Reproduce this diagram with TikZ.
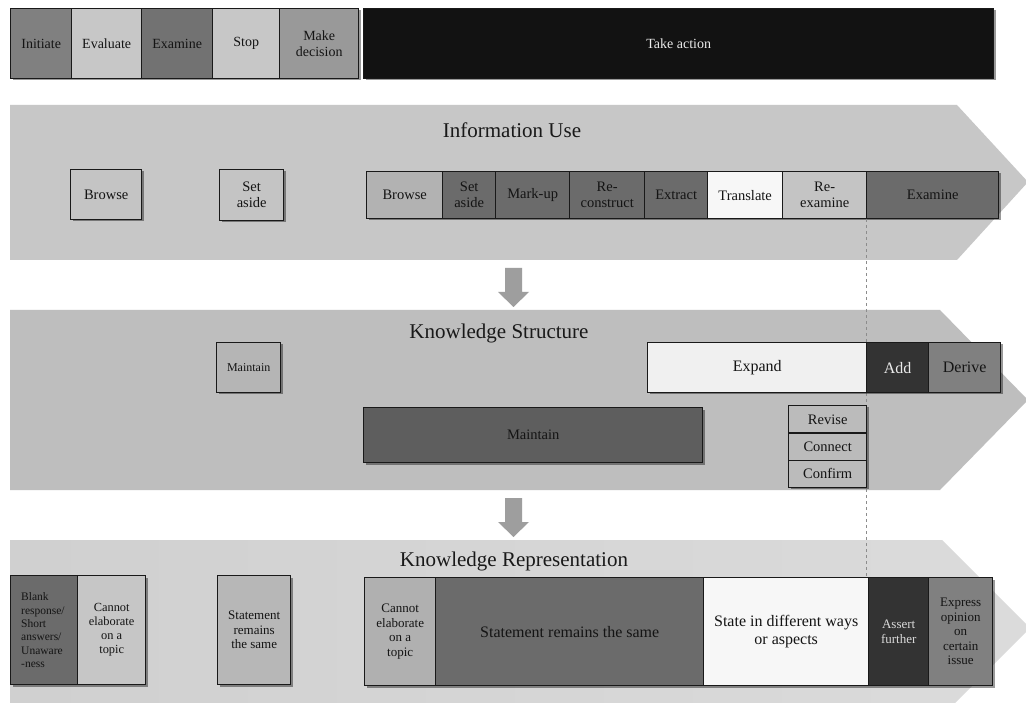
\documentclass[tikz,border=0pt]{standalone}
\usepackage{fontspec}
\setmainfont{Liberation Serif}
\usetikzlibrary{shadows}
\definecolor{chevA}{gray}{0.78}
\definecolor{chevB}{gray}{0.745}
\definecolor{chevCl}{gray}{0.815}
\definecolor{chevCr}{gray}{0.86}
\definecolor{gDark}{gray}{0.42}
\definecolor{gMid}{gray}{0.50}
\definecolor{gMed}{gray}{0.60}
\definecolor{gLight}{gray}{0.77}
\definecolor{gPale}{gray}{0.97}
\definecolor{gBlack}{gray}{0.07}
\definecolor{gCoal}{gray}{0.20}
\definecolor{arrowgray}{gray}{0.62}
\begin{document}
\begin{tikzpicture}[x=1pt,y=-1pt,
  cell/.style={draw=black!90, line width=1.4pt, anchor=north west, align=center,
    inner sep=1pt, text=black!92,
    drop shadow={shadow xshift=1.8pt, shadow yshift=-1.8pt, opacity=0.4, fill=black}},
  ttl/.style={font=\fontsize{21}{24}\selectfont, text=black!90},
  fA/.style={font=\fontsize{12}{13.4}\selectfont},
  fB/.style={font=\fontsize{13}{14.5}\selectfont},
  fC/.style={font=\fontsize{14}{15.5}\selectfont},
  fR/.style={font=\fontsize{14.5}{16}\selectfont},
  fD/.style={font=\fontsize{16}{18.5}\selectfont},
  blockarrow/.style={fill=arrowgray, draw=none},
  guide/.style={draw=black!45, dashed, line width=0.8pt}
]
\useasboundingbox (0,0) rectangle (1026,703);
\fill[white] (0,0) rectangle (1026,703);
\begin{scope}
\clip (0,0) rectangle (1026,703);
% chevrons
\fill[chevA] (10,105) -- (957,105) -- (1028,182) -- (957,260) -- (10,260) -- cycle;
\fill[chevB] (10,310) -- (940,310) -- (1028,400) -- (940,490) -- (10,490) -- cycle;
\shade[left color=chevCl, right color=chevCr] (10,540) -- (942,540) -- (1030,628) -- (942,716) -- (10,716) -- cycle;
\end{scope}

% block arrows
\fill[blockarrow] (505,268) -- (522,268) -- (522,292) -- (529,292) -- (513.5,307) -- (498,292) -- (505,292) -- cycle;
\fill[blockarrow] (505,498) -- (522,498) -- (522,522) -- (529,522) -- (513.5,537) -- (498,522) -- (505,522) -- cycle;

% top bar
\node[cell, fC, fill=gMid, minimum width=61pt, minimum height=70pt] (init) at (10,8) {Initiate};
\node[cell, fC, fill=gLight!95!white, minimum width=70pt, minimum height=70pt] (eval) at (71,8) {Evaluate};
\node[cell, fC, fill=gDark!95!white, minimum width=71pt, minimum height=70pt] (exam) at (141,8) {Examine};
\node[cell, fC, fill=gLight!95!white, minimum width=67pt, minimum height=70pt] (stop) at (212,8) {Stop};
\node[cell, fC, fill=gMed, minimum width=79pt, minimum height=70pt] (decide) at (279,8) {Make\\decision};
\node[cell, fC, fill=gBlack, text=white!92!black, minimum width=630pt, minimum height=70pt] (act) at (363,8) {Take action};

% Information Use
\node[ttl] (infotitle) at (512,130) {Information Use};
\node[cell, fR, fill=gLight, minimum width=71pt, minimum height=50pt] (ibrowse) at (70,169) {Browse};
\node[cell, fR, fill=gLight, minimum width=64pt, minimum height=51pt] (iset) at (219,169) {Set\\aside};

\node[cell, fR, fill=gray!60!white, minimum width=76pt, minimum height=47pt] (r1) at (366,171) {Browse};
\node[cell, fR, fill=gDark, minimum width=53pt, minimum height=47pt] (r2) at (442,171) {Set\\aside};
\node[cell, fR, fill=gDark, minimum width=74pt, minimum height=47pt] (r3) at (495,171) {Mark-up};
\node[cell, fR, fill=gDark, minimum width=75pt, minimum height=47pt] (r4) at (569,171) {Re-\\construct};
\node[cell, fR, fill=gDark, minimum width=63pt, minimum height=47pt] (r5) at (644,171) {Extract};
\node[cell, fR, fill=gPale, minimum width=75pt, minimum height=47pt] (r6) at (707,171) {Translate};
\node[cell, fR, fill=gLight, minimum width=84pt, minimum height=47pt] (r7) at (782,171) {Re-\\examine};
\node[cell, fR, fill=gDark, minimum width=132pt, minimum height=47pt] (r8) at (866,171) {Examine};

% Knowledge Structure
\node[ttl] (kstitle) at (499,333) {Knowledge Structure};
\node[cell, fA, fill=gLight!92!black, minimum width=64pt, minimum height=50pt] (smaint) at (216,342) {Maintain};

% guide line
\draw[guide] (r8.south west) -- (r8.south west |- 0,577);

\node[cell, fD, fill=gPale!97!black, minimum width=219pt, minimum height=50pt] (expand) at (647,342) {Expand};
\node[cell, fD, fill=gCoal, text=white!92!black, minimum width=62pt, minimum height=50pt] (add) at (866,342) {Add};
\node[cell, fD, fill=gMid, minimum width=72pt, minimum height=50pt] (derive) at (928,342) {Derive};
\node[cell, fR, fill=gDark!88!black, minimum width=339pt, minimum height=55pt] (dmaint) at (363,407) {Maintain};
\node[cell, fR, fill=gLight!95!black, minimum width=78pt, minimum height=27.3pt] (revise) at (788,405) {Revise};
\node[cell, fR, fill=gLight!95!black, minimum width=78pt, minimum height=27.3pt] (connect) at (788,432.3) {Connect};
\node[cell, fR, fill=gLight!95!black, minimum width=78pt, minimum height=27.3pt] (confirm) at (788,459.6) {Confirm};

% Knowledge Representation
\node[ttl] (krtitle) at (514,561) {Knowledge Representation};
\node[cell, font=\fontsize{11.5}{13.4}\selectfont, fill=gDark, minimum width=67pt, minimum height=109pt, text width=46pt, align=left] (blank) at (10,575) {Blank\\response/\\Short\\answers/\\Unaware\\-ness};
\node[cell, font=\fontsize{12.4}{14}\selectfont, fill=gLight!98!white, minimum width=68pt, minimum height=109pt] (celab) at (77,575) {Cannot\\elaborate\\on a\\topic};
\node[cell, fB, fill=gLight!93!black, minimum width=73pt, minimum height=109pt] (sremain) at (217,575) {Statement\\remains\\the same};

\node[cell, fB, fill=gray!62!white, minimum width=71pt, minimum height=108pt] (b1) at (364,577) {Cannot\\elaborate\\on a\\topic};
\node[cell, fD, fill=gDark, minimum width=268pt, minimum height=108pt] (b2) at (435,577) {Statement remains the same};
\node[cell, fD, fill=gPale, minimum width=165pt, minimum height=108pt] (b3) at (703,577) {State in different ways\\or aspects};
\node[cell, fB, fill=gCoal, text=white!85!black, minimum width=60pt, minimum height=108pt] (b4) at (868,577) {Assert\\further};
\node[cell, fB, fill=gMid, minimum width=64pt, minimum height=108pt] (b5) at (928,577) {Express\\opinion\\on\\certain\\issue};
\end{tikzpicture}
\end{document}
